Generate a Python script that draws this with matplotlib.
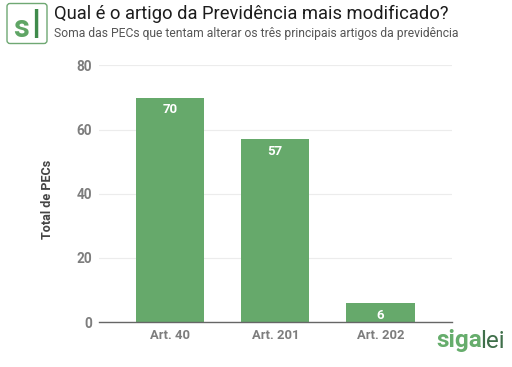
import matplotlib
matplotlib.use('Agg')
import matplotlib.pyplot as plt
from matplotlib.patches import FancyBboxPatch

W, H = 512, 367

categories = ['Art. 40', 'Art. 201', 'Art. 202']
values = [70, 57, 6]
y_ticks = [0, 20, 40, 60, 80]
title = 'Qual é o artigo da Previdência mais modificado?'
subtitle = 'Soma das PECs que tentam alterar os três principais artigos da previdência'

plt.rcParams['font.family'] = ['Roboto', 'DejaVu Sans']

GREEN = '#66a96b'
GREY = '#7d7d7d'

fig = plt.figure(figsize=(W / 100, H / 100), dpi=100)

# Axes placed in pixels of the reference.
left, right, top, bottom = 99, 451.5, 65.5, 322
ax = fig.add_axes([left / W, 1 - bottom / H, (right - left) / W, (bottom - top) / H])

ax.bar(range(len(values)), values, width=0.65, color=GREEN, zorder=2)
for i, v in enumerate(values):
    ax.text(i, v - 1.8, str(v), ha='center', va='top', color='white',
            fontsize=9.5, fontweight='bold', zorder=3)

ax.set_xlim(-0.674, 2.674)
ax.set_ylim(0, 80)
ax.set_xticks(range(len(categories)))
ax.set_xticklabels(categories, fontsize=9.4, fontweight='bold', color=GREY)
ax.set_yticks(y_ticks)
ax.set_yticklabels(y_ticks, fontsize=9.8, fontweight='bold', color=GREY)
ax.tick_params(axis='both', length=0)
ax.tick_params(axis='x', pad=5)
ax.tick_params(axis='y', pad=5)
ax.set_ylabel('Total de PECs', fontsize=9.1, fontweight='bold', color='#444444')
ax.yaxis.set_label_coords(-0.128, 0.477)

ax.grid(axis='y', color='#ececec', linewidth=0.8, zorder=0)
ax.set_axisbelow(True)
for side in ['top', 'right', 'left']:
    ax.spines[side].set_visible(False)
ax.spines['bottom'].set_color('#666666')
ax.spines['bottom'].set_linewidth(1)
ax.spines['bottom'].set_zorder(4)

# Header
fig.text(54 / W, 1 - 14 / H, title, fontsize=13.23, color='#1c1c1c', va='center', ha='left')
fig.text(54 / W, 1 - 34 / H, subtitle, fontsize=8.69, color='#555555', va='center', ha='left')

# Logo badge, drawn in pixel coordinates.
bg = fig.add_axes([0, 0, 1, 1], zorder=5, facecolor='none')
bg.set_xlim(0, W)
bg.set_ylim(H, 0)
bg.axis('off')
bg.add_patch(FancyBboxPatch((7, 3.5), 40, 40, boxstyle='round,pad=0,rounding_size=3',
                            facecolor='white', edgecolor='#6fa873', linewidth=1))
bg.text(21, 28, 's', fontsize=22, fontweight='bold', color='#5fa565', ha='center', va='center')
bg.text(36, 27, 'l', fontsize=27, color='#3f8a4b', ha='center', va='center')

# Footer wordmark
bg.text(436, 341, 'siga', fontsize=17.5, fontweight='bold', color='#66ad6c', ha='left', va='center')
bg.text(505, 341, 'lei', fontsize=17.5, color='#3f6f4a', ha='right', va='center')

fig.savefig('out.png', dpi=100)
